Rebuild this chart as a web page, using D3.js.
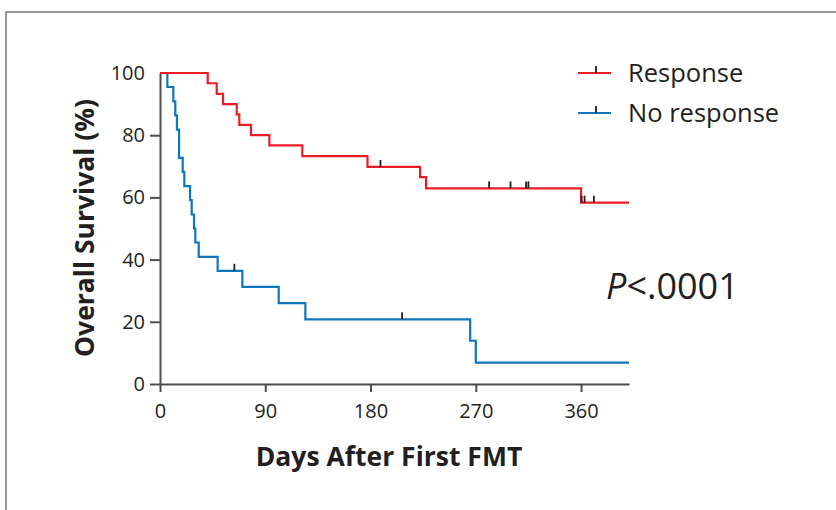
<!DOCTYPE html>
<html>
<head>
<meta charset="utf-8">
<script src="https://cdn.jsdelivr.net/npm/d3@7"></script>
<style>
  body { margin: 0; background: #fff; }
  text { font-family: "Open Sans", "Noto Sans", sans-serif; fill: #231f20; }
</style>
</head>
<body>
<div id="chart"></div>
<script>
// Kaplan-Meier steps (day, survival %)
const respTimes = [0, 40.8, 48.5, 53.9, 65.6, 67.8, 77.8, 93.5, 121.7, 177.4, 222.4, 227.5, 360];
const respSurv  = [100, 96.7, 93.3, 90, 86.7, 83.3, 80, 76.7, 73.3, 69.8, 66.5, 62.9, 58.3];
const respCensor = [188.5, 281.4, 299.7, 313, 315, 360.5, 363, 371];

const noRespTimes = [0, 6.3, 11.4, 13.1, 14.5, 16.3, 19.4, 20.8, 25.7, 27.1, 29.1, 30.2, 33.1, 49.3, 70.4, 101.5, 124.3, 265.2, 270];
const noRespSurv  = [100, 95.5, 90.9, 86.4, 81.8, 72.7, 68.2, 63.6, 59.1, 54.5, 50, 45.5, 40.9, 36.4, 31.2, 26.0, 20.8, 13.9, 6.9];
const noRespCensor = [63.6, 207];

const lastDay = 401;
const xTicks = [0, 90, 180, 270, 360];
const yTicks = [0, 20, 40, 60, 80, 100];
const seriesNames = ["Response", "No response"];
const seriesColors = ["#ed1c24", "#0f75bd"];

const W = 836, H = 510;
const svg = d3.select("#chart").append("svg")
    .attr("width", W).attr("height", H);

// outer frame of the figure panel
svg.append("rect")
    .attr("x", 6).attr("y", 12)
    .attr("width", W).attr("height", H)
    .attr("fill", "none").attr("stroke", "#555").attr("stroke-width", 1.2);

var x = d3.scaleLinear().domain([0, lastDay]).range([160, 629]);
var y = d3.scaleLinear().domain([0, 100]).range([384, 73]);

// axes
var xAxis = svg.append("g")
    .attr("transform", "translate(0," + y(0) + ")")
    .call(d3.axisBottom(x).tickValues(xTicks).tickSize(8).tickSizeOuter(0).tickPadding(12));
var yAxis = svg.append("g")
    .attr("transform", "translate(" + x(0) + ",0)")
    .call(d3.axisLeft(y).tickValues(yTicks).tickSize(10).tickSizeOuter(0).tickPadding(5));

[xAxis, yAxis].forEach(function(a){
  a.select(".domain").attr("stroke", "#4d4d4d").attr("stroke-width", 2);
  a.selectAll(".tick line").attr("stroke", "#4d4d4d").attr("stroke-width", 2);
  a.selectAll(".tick text").style("font-size", "20px").attr("fill", "#231f20");
});
yAxis.selectAll(".tick").filter(function(d){ return d === 100; }).select("line").remove();

// step curves
function stepData(times, surv) {
  var pts = times.map(function(t, i){ return [t, surv[i]]; });
  pts.push([lastDay, surv[surv.length - 1]]);
  return pts;
}
function survAt(times, surv, t) {
  var v = surv[0];
  times.forEach(function(tt, i){ if (tt <= t) v = surv[i]; });
  return v;
}
var line = d3.line()
    .x(function(d){ return x(d[0]); })
    .y(function(d){ return y(d[1]); })
    .curve(d3.curveStepAfter);

var groups = [
  {times: noRespTimes, surv: noRespSurv, censor: noRespCensor, color: seriesColors[1]},
  {times: respTimes, surv: respSurv, censor: respCensor, color: seriesColors[0]}
];

groups.forEach(function(g){
  svg.append("path")
      .datum(stepData(g.times, g.surv))
      .attr("d", line)
      .attr("fill", "none")
      .attr("stroke", g.color)
      .attr("stroke-width", 2.2);

  svg.selectAll(null)
      .data(g.censor)
      .enter()
      .append("line")
      .attr("x1", function(d){ return x(d); })
      .attr("x2", function(d){ return x(d); })
      .attr("y1", function(d){ return y(survAt(g.times, g.surv, d)); })
      .attr("y2", function(d){ return y(survAt(g.times, g.surv, d)) - 7; })
      .attr("stroke", "#231f20")
      .attr("stroke-width", 1.8);
});

// legend
var legend = svg.append("g").attr("transform", "translate(578,73)");
seriesNames.forEach(function(name, i){
  var row = legend.append("g").attr("transform", "translate(0," + (i * 40) + ")");
  row.append("line").attr("x1", 0).attr("x2", 33).attr("y1", 0).attr("y2", 0)
      .attr("stroke", seriesColors[i]).attr("stroke-width", 2.2);
  row.append("line").attr("x1", 18).attr("x2", 18).attr("y1", 0).attr("y2", -7)
      .attr("stroke", "#231f20").attr("stroke-width", 1.8);
  row.append("text").attr("x", 50).attr("y", 9)
      .style("font-size", "25.5px").text(name);
});

// p value
svg.append("text")
    .attr("x", 606).attr("y", 299)
    .style("font-size", "36px")
    .html('<tspan font-style="italic">P</tspan>&lt;.0001');

// axis titles
svg.append("text")
    .attr("x", 389).attr("y", 466)
    .attr("text-anchor", "middle")
    .style("font-size", "26.5px").style("font-weight", "bold")
    .text("Days After First FMT");

svg.append("text")
    .attr("transform", "translate(94,228) rotate(-90)")
    .attr("text-anchor", "middle")
    .style("font-size", "26.5px").style("font-weight", "bold")
    .text("Overall Survival (%)");
</script>
</body>
</html>
